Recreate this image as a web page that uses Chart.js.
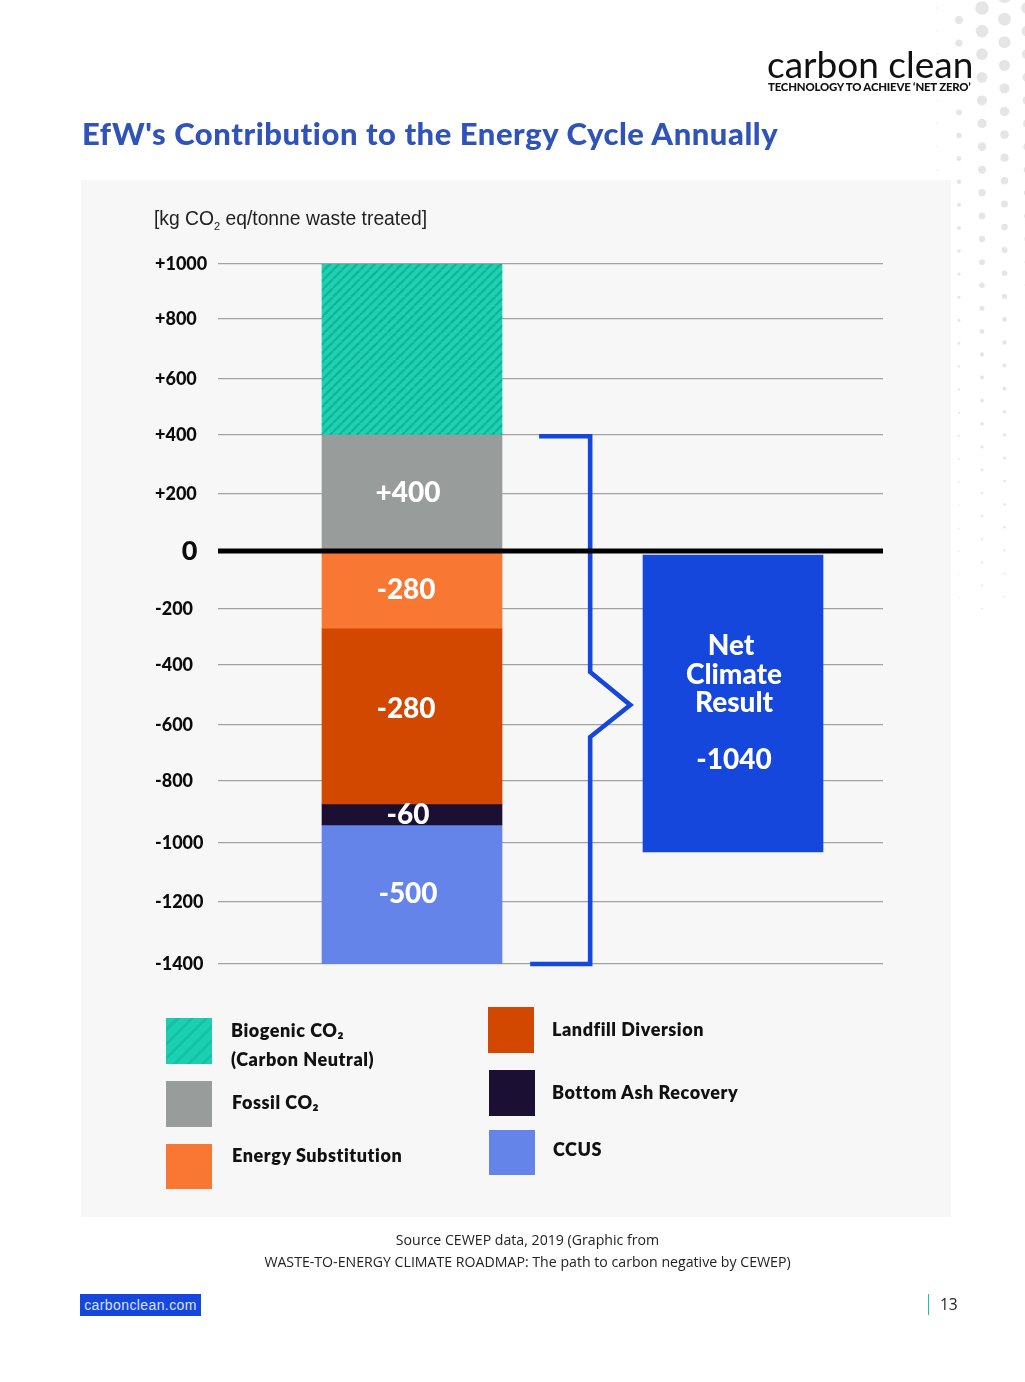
<!DOCTYPE html>
<html><head><meta charset="utf-8">
<style>
html,body{margin:0;padding:0;background:#fff;width:1025px;height:1382px;overflow:hidden}
body{position:relative;font-family:Lato,sans-serif;color:#0d0d0d}
.abs{position:absolute;white-space:nowrap}
#panel{left:81px;top:180px;width:870px;height:1037px;background:#f7f7f7}
#dots{left:0;top:0}
#chart{position:absolute;left:0;top:0;width:1025px;height:1382px}
.leg{font:800 18px Lato,sans-serif;letter-spacing:.55px;color:#111}
.sw{position:absolute;width:46px;height:46px}
.src{font:14.15px "Open Sans",sans-serif;color:#222;width:1025px;text-align:center;left:15px}
sub{font-size:11px}
</style></head><body>
<canvas id="dots" class="abs" width="1025" height="1382"></canvas>
<div id="panel" class="abs"></div>
<canvas id="chart" width="1025" height="1382"></canvas>
<div class="abs" style="left:767px;top:41px;font:400 37px 'Lato',sans-serif;color:#111;letter-spacing:0">carbon clean</div>
<div class="abs" style="left:768px;top:80px;font:900 11.4px Lato,sans-serif;color:#111;letter-spacing:-.2px">TECHNOLOGY TO ACHIEVE ‘NET ZERO’</div>
<div class="abs" style="left:82px;top:114px;font:900 31px Lato,sans-serif;color:#2f53b8;letter-spacing:.54px">EfW's Contribution to the Energy Cycle Annually</div>
<div class="abs" style="left:154px;top:208px;font:19.3px 'Liberation Sans',sans-serif;color:#222">[kg CO<sub>2</sub> eq/tonne waste treated]</div>
<div class="sw" style="left:166px;top:1018px;background:repeating-linear-gradient(135deg,#1bd0b0 0 7px,#17c2a4 7px 10px)"></div>
<div class="sw" style="left:166px;top:1081px;background:#989c9a"></div>
<div class="sw" style="left:166px;top:1144px;height:45px;background:#f87733"></div>
<div class="sw" style="left:488px;top:1007px;background:#d24800"></div>
<div class="sw" style="left:489px;top:1070px;background:#1b1033"></div>
<div class="sw" style="left:489px;top:1130px;height:45px;background:#6584e9"></div>
<div class="abs leg" style="left:231px;top:1019px">Biogenic CO₂</div>
<div class="abs leg" style="left:231px;top:1048px">(Carbon Neutral)</div>
<div class="abs leg" style="left:232px;top:1091px">Fossil CO₂</div>
<div class="abs leg" style="left:232px;top:1144px">Energy Substitution</div>
<div class="abs leg" style="left:552px;top:1018px">Landfill Diversion</div>
<div class="abs leg" style="left:552px;top:1081px">Bottom Ash Recovery</div>
<div class="abs leg" style="left:553px;top:1138px">CCUS</div>
<div class="abs src" style="top:1230px">Source CEWEP data, 2019 (Graphic from</div>
<div class="abs src" style="top:1252px">WASTE-TO-ENERGY CLIMATE ROADMAP: The path to carbon negative by CEWEP)</div>
<div class="abs" style="left:80px;top:1294px;width:121px;height:22px;background:#1547dc;color:#d9e2ff;font:14px/22px 'Liberation Sans',sans-serif;text-align:center;letter-spacing:.4px">carbonclean.com</div>
<div class="abs" style="left:928px;top:1294px;height:21px;border-left:1.5px solid #18c2a5"></div>
<div class="abs" style="left:940px;top:1293px;font:15.5px 'Open Sans',sans-serif;color:#222">13</div>
<script src="https://cdn.jsdelivr.net/npm/chart.js@4/dist/chart.umd.min.js"></script>
<script>
// ---- data ----
const tickValues = [1000, 800, 600, 400, 200, 0, -200, -400, -600, -800, -1000, -1200, -1400];
const seriesNames = ["Fossil CO2", "Biogenic CO2", "Energy Substitution", "Landfill Diversion", "Bottom Ash Recovery", "CCUS"];
const seriesValues = [400, 600, -268, -606, -68, -458];
const printedLabels = ["+400", "", "-280", "-280", "-60", "-500"];
const netRange = [-14, -1030];
const netLines = ["Net", "Climate", "Result", "", "-1040"];
const bracketX = [0.396, 0.555, 0.555, 0.68, 0.555, 0.555, 0.368];
const bracketY = [396, 396, -423, -533, -643, -1400, -1400];

// ---- style ----
const seriesColors = ["#989c9a", null, "#f87733", "#d24800", "#1b1033", "#6584e9"];
// the printed axis is very slightly uneven: share of axis height at which each tick sits
const tickShares = [0, .0786, .1643, .2443, .3286, .41, .4929, .5729, .6586, .7386, .8271, .9114, 1];

class PrintedScale extends Chart.LinearScale {
  getPixelForValue(v) {
    const n = tickValues.length;
    let i = 0;
    while (i < n - 2 && v < tickValues[i + 1]) i++;
    const t = (tickValues[i] - v) / (tickValues[i] - tickValues[i + 1]);
    const share = tickShares[i] + t * (tickShares[i + 1] - tickShares[i]);
    return this.top + share * this.height;
  }
  getValueForPixel(p) {
    const s = (p - this.top) / this.height;
    let i = 0;
    while (i < tickShares.length - 2 && s > tickShares[i + 1]) i++;
    const t = (s - tickShares[i]) / (tickShares[i + 1] - tickShares[i]);
    return tickValues[i] + t * (tickValues[i + 1] - tickValues[i]);
  }
}
PrintedScale.id = "printed";
PrintedScale.defaults = Chart.LinearScale.defaults;
Chart.register(PrintedScale);

function hatch() {
  const c = document.createElement("canvas");
  c.width = c.height = 9;
  const g = c.getContext("2d");
  g.fillStyle = "#1dd2b2"; g.fillRect(0, 0, 9, 9);
  g.strokeStyle = "#14b498"; g.lineWidth = 2.4;
  for (const d of [-9, 0, 9]) { g.beginPath(); g.moveTo(d, 9); g.lineTo(d + 9, 0); g.stroke(); }
  return document.getElementById("chart").getContext("2d").createPattern(c, "repeat");
}

const BAR_X = 0, NET_X = 1, XMIN = -0.6044, XMAX = 1.4673;
const datasets = seriesNames.map((n, i) => ({
  type: "bar", label: n, data: [{ x: BAR_X, y: seriesValues[i] }],
  backgroundColor: seriesColors[i] || hatch(), barThickness: 180, order: 3
}));
datasets.push({ type: "bar", label: "Net Climate Result", data: [{ x: NET_X, y: netRange }], backgroundColor: "#1547dc", barThickness: 180, order: 3 });
datasets.push({ type: "line", label: "Bracket", stack: "bracket", order: 2, clip: false,
  data: bracketX.map((x, i) => ({ x, y: bracketY[i] })), borderColor: "#1547dc", borderWidth: 4.6,
  pointRadius: 0, tension: 0, borderJoinStyle: "miter", fill: false });
datasets.push({ type: "line", label: "Zero", stack: "zero", order: 1, clip: false,
  data: [{ x: XMIN, y: 0 }, { x: XMAX, y: 0 }], borderColor: "#000", borderWidth: 5, pointRadius: 0, fill: false });

const barTextNudge = [[-4, 0], [0, 0], [-6, 0], [-6, -7], [-4, 0], [-4, -1]];
const textPlugin = { id: "barText", afterDraw(ch) {
  const g = ch.ctx; g.save();
  g.fillStyle = "#fff"; g.textAlign = "center"; g.textBaseline = "middle";
  g.font = "900 28px Lato, sans-serif";
  printedLabels.forEach((t, i) => {
    if (!t) return;
    const el = ch.getDatasetMeta(i).data[0], c = el.getCenterPoint();
    g.fillText(t, c.x + barTextNudge[i][0], c.y + barTextNudge[i][1]);
  });
  const net = ch.getDatasetMeta(seriesNames.length).data[0], c = net.getCenterPoint();
  const lineY = [-57.5, -28.5, 0, 0, 56.5];
  const lineX = [-2, 1, 1, 0, 1];
  netLines.forEach((t, i) => { if (t) g.fillText(t, c.x + lineX[i], c.y + lineY[i]); });
  g.restore();
}};

new Chart(document.getElementById("chart"), {
  data: { datasets },
  plugins: [textPlugin],
  options: {
    responsive: false, animation: false,
    layout: { padding: { left: 155, right: 142, top: 264, bottom: 418 } },
    plugins: { legend: { display: false }, tooltip: { enabled: false } },
    scales: {
      x: { type: "linear", min: XMIN, max: XMAX, offset: false, stacked: true, display: false, grid: { display: false } },
      y: { type: "printed", min: -1400, max: 1000, stacked: true,
        afterBuildTicks: s => { s.ticks = tickValues.map(value => ({ value })); },
        afterFit: s => { s.width = 63; },
        border: { display: false },
        grid: { color: "#a2a2a2", lineWidth: 1.3, drawTicks: false },
        ticks: { crossAlign: "far", padding: 0, color: "#0b0b0b", autoSkip: false, labelOffset: 0,
          font: c => c.tick && c.tick.value === 0 ? { family: "Lato", size: 27, weight: "900" } : { family: "Lato", size: 18, weight: "900" },
          callback: v => v === 0 ? "\u2003\u00a00" : (v > 0 ? "+" + v : "-" + Math.abs(v)) }
      }
    }
  }
});

// decorative halftone at the page corner
(function () {
  const g = document.getElementById("dots").getContext("2d");
  g.fillStyle = "#e5e5e5";
  const cols = [[937, 8, 0.7, 185], [959, 20, 4.2, 610], [982, 8, 7, 610], [1004.5, -4, 6.9, 610], [1027, 8, 6, 440]];
  cols.forEach(([x, start, big, end]) => {
    for (let y = start; y < end; y += 23.1) {
      if (x === 959 && y > 50 && y < 100) continue;   // hidden by the logo's white box
      const r = x === 937 ? big : Math.max(0.5, big * Math.exp(-y / 300));
      g.beginPath(); g.arc(x, y, r, 0, 7); g.fill();
    }
  });
})();
</script>
</body></html>
